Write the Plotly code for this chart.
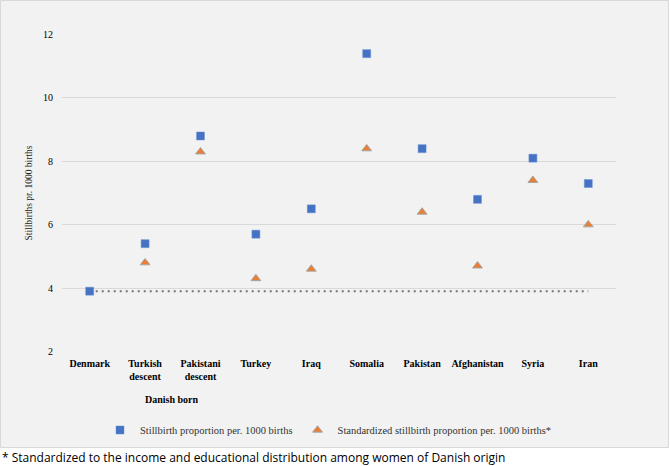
import plotly.graph_objects as go

categories = ["Denmark", "Turkish<br>descent", "Pakistani<br>descent", "Turkey", "Iraq",
              "Somalia", "Pakistan", "Afghanistan", "Syria", "Iran"]
stillbirth = [3.9, 5.4, 8.8, 5.7, 6.5, 11.4, 8.4, 6.8, 8.1, 7.3]
standardized = [None, 4.8, 8.3, 4.3, 4.6, 8.4, 6.4, 4.7, 7.4, 6.0]
reference_level = [3.9] * len(categories)
y_ticks = [2, 4, 6, 8, 10, 12]

W, H = 670, 466
ML, MR, MT, MB = 62, 54, 34, 114
PW, PH = W - ML - MR, H - MT - MB

def px(x):
    return (x - ML) / PW

def py(y):
    return (H - MB - y) / PH

serif = "Liberation Serif"

fig = go.Figure()
fig.add_trace(go.Scatter(
    x=categories, y=reference_level, mode="lines",
    line=dict(color="#737373", width=2, dash="2px,4px"),
    showlegend=False, hoverinfo="skip"))
fig.add_trace(go.Scatter(
    x=categories, y=stillbirth, mode="markers",
    name="Stillbirth proportion per. 1000 births",
    marker=dict(symbol="square", size=8, color="#4472C4",
                line=dict(color="#6f93d3", width=0.5))))
fig.add_trace(go.Scatter(
    x=categories, y=standardized, mode="markers",
    name="Standardized stillbirth proportion per. 1000 births*",
    marker=dict(symbol="triangle-up", size=8.5, color="#ED7D31",
                line=dict(color="#a5a5a5", width=1))))

fig.update_layout(
    width=W, height=H,
    margin=dict(l=ML, r=MR, t=MT, b=MB, pad=0),
    paper_bgcolor="white", plot_bgcolor="#f2f2f2",
    showlegend=True,
    legend=dict(orientation="h", x=px(100), xanchor="left", y=py(430), yanchor="middle",
                font=dict(family=serif, size=10.5, color="#333333"),
                bgcolor="rgba(0,0,0,0)", itemwidth=30, traceorder="normal"),
    xaxis=dict(type="category", range=[-0.5, len(categories) - 0.5], showgrid=False,
               zeroline=False, showline=False, ticks="",
               tickfont=dict(family=serif, size=10, color="#000000"),
               ticklabelstandoff=4),
    yaxis=dict(range=[1.98, 12.02], tickvals=y_ticks, showgrid=True, gridcolor="#d9d9d9",
               gridwidth=1, zeroline=False, showline=False, ticks="",
               tickfont=dict(family=serif, size=10, color="#000000"),
               ticklabelstandoff=8,
               title=dict(text="Stillbirths pr. 1000 births",
                          font=dict(family=serif, size=9.5, color="#222222"), standoff=8)),
    shapes=[dict(type="rect", xref="paper", yref="paper",
                 x0=px(0.5), x1=px(668.5), y0=py(447.5), y1=py(0.5),
                 fillcolor="#f2f2f2", line=dict(color="#d9d9d9", width=1), layer="below")],
    annotations=[
        dict(text="<b>Danish born</b>", xref="paper", yref="paper", x=px(172), y=py(399),
             showarrow=False, xanchor="center", yanchor="middle",
             font=dict(family=serif, size=10, color="#000000")),
        dict(text="* Standardized to the income and educational distribution among women of Danish origin",
             xref="paper", yref="paper", x=px(0), y=py(457), showarrow=False,
             xanchor="left", yanchor="middle",
             font=dict(family="Open Sans", size=12, color="#000000")),
    ],
)
fig.update_xaxes(tickprefix="<b>", ticksuffix="</b>")
fig.update_yaxes(tickprefix="<b>", ticksuffix="</b>")

fig.write_html("out.html", config={"displayModeBar": False},
               post_script="document.body.style.margin='0';document.body.style.overflow='hidden';")
